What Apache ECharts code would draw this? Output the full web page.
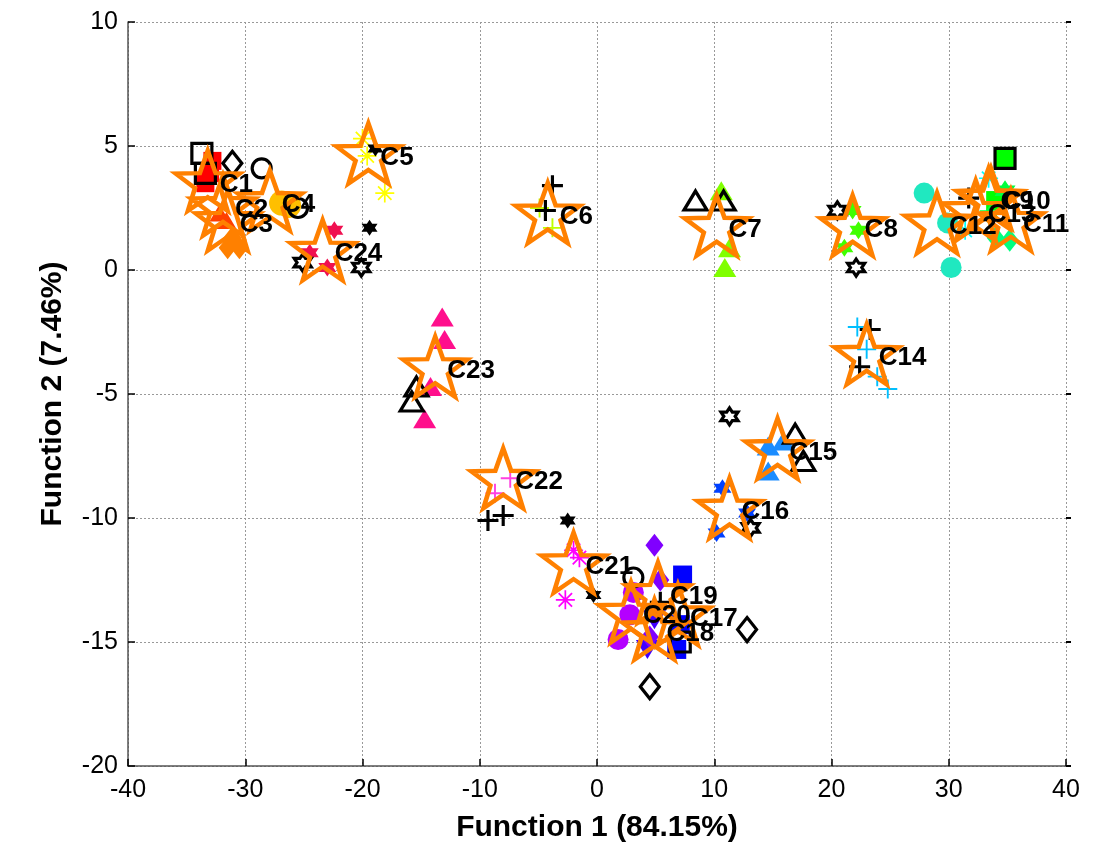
<!DOCTYPE html>
<html>
<head>
<meta charset="utf-8">
<script src="https://cdn.jsdelivr.net/npm/echarts@6/dist/echarts.min.js"></script>
<style>html,body{margin:0;padding:0;background:#fff;}#c{width:1102px;height:858px;}</style>
</head>
<body>
<div id="c"></div>
<script>
// ---- DATA ----
const xTicks = [-40, -30, -20, -10, 0, 10, 20, 30, 40];
const yTicks = [-20, -15, -10, -5, 0, 5, 10];
const centroidNames = ['C1','C2','C3','C4','C5','C6','C7','C8','C9','C10','C11','C12','C13','C14','C15','C16','C17','C18','C19','C20','C21','C22','C23','C24'];
const centroidX = [-33.2,-31.9,-31.5,-27.9,-19.5,-4.2,10.2,21.8,33.4,33.6,35.3,29.0,32.3,23.0,15.4,11.3,6.9,4.9,5.2,2.9,-2.0,-8.0,-13.8,-23.4];
const centroidY = [3.6,2.6,2.0,2.8,4.7,2.3,1.8,1.8,2.9,2.9,2.0,1.9,2.4,-3.4,-7.2,-9.6,-13.9,-14.5,-13.0,-13.8,-11.8,-8.4,-3.9,0.8];

const G01 = [[-32.8,4.4],[-33.4,3.5],[-33.0,3.9]];
const G02 = [[-31.6,2.0],[-32.2,2.3]];
const G03 = [[-31.5,0.9],[-30.5,0.9],[-31.1,1.3]];
const G04 = [[-26.9,2.7],[-26.3,2.6]];
const G05 = [[-20.0,5.3],[-19.6,4.6],[-18.1,3.1]];
const G06 = [[-4.9,2.5],[-3.8,1.7]];
const G07 = [[10.6,3.2],[11.3,0.9],[10.9,0.1]];
const G08 = [[21.8,2.4],[22.3,1.6],[21.1,0.9]];
const G09 = [[34.8,4.5],[34.0,2.8]];
const G10 = [[33.5,2.2],[34.8,3.2]];
const G11 = [[34.0,1.3],[35.2,1.2]];
const G12 = [[27.9,3.1],[29.9,1.9],[30.2,0.1]];
const G13 = [[33.4,3.7],[31.4,1.6]];
const G14 = [[22.2,-2.3],[23.0,-3.2],[23.9,-4.3],[24.8,-4.8]];
const G15 = [[14.6,-7.1],[14.6,-8.1],[15.9,-6.9]];
const G16 = [[10.7,-8.8],[10.2,-10.6],[12.8,-9.8]];
const G17 = [[7.3,-12.3],[6.8,-15.3],[7.1,-14.3]];
const G18 = [[4.3,-15.3],[4.9,-14.1]];
const G19 = [[4.9,-11.1],[4.5,-14.8],[5.4,-12.5]];
const G20 = [[3.1,-13.0],[2.8,-13.9],[1.8,-14.9]];
const G21 = [[-2.0,-11.3],[-1.5,-11.6],[-2.7,-13.3]];
const G22 = [[-7.4,-8.4],[-8.7,-9.0]];
const G23 = [[-13.2,-1.9],[-13.0,-2.8],[-14.2,-4.7],[-14.7,-6.0]];
const G24 = [[-22.4,1.6],[-24.5,0.7],[-23.0,0.1]];

const blackSquares = [[-33.7,4.7],[-33.4,3.9],[7.1,-15.0],[34.8,4.5]];
const blackDiamonds = [[-31.1,4.3],[12.8,-14.5],[4.5,-16.8]];
const blackCircles = [[-28.6,4.1],[-25.5,2.5],[3.1,-12.4]];
const blackTriangles = [[8.4,2.8],[10.8,2.8],[-15.4,-4.7],[-15.8,-5.3],[16.9,-6.6],[17.6,-7.7]];
const blackHexagrams = [[-25.1,0.3],[-20.1,0.1],[20.5,2.4],[22.1,0.1],[11.3,-5.9],[13.1,-10.4]];
const blackPlus = [[-3.8,3.4],[-4.4,2.4],[-9.3,-10.1],[-8.0,-9.9],[23.3,-2.4],[22.4,-3.9],[31.7,2.9],[5.4,-13.4]];
const blackBlobs = [[-18.9,4.9],[-19.4,1.7],[-2.5,-10.1],[-0.3,-13.1]];

// ---- SYMBOLS ----
const STAR = 'path://M0,-100 L23.5,-32.4 L95.1,-30.9 L38,12.4 L58.8,80.9 L0,40 L-58.8,80.9 L-38,12.4 L-95.1,-30.9 L-23.5,-32.4 Z';
const HEX = 'path://M0,-100 L28.9,-50 L86.6,-50 L57.7,0 L86.6,50 L28.9,50 L0,100 L-28.9,50 L-86.6,50 L-57.7,0 L-86.6,-50 L-28.9,-50 Z';
const PLUS = 'path://M-10,-100 L10,-100 L10,-10 L100,-10 L100,10 L10,10 L10,100 L-10,100 L-10,10 L-100,10 L-100,-10 L-10,-10 Z';
const PLUSB = 'path://M-15,-100 L15,-100 L15,-15 L100,-15 L100,15 L15,15 L15,100 L-15,100 L-15,15 L-100,15 L-100,-15 L-15,-15 Z';
const AST = 'path://M-9,-100 L9,-100 L9,-9 L100,-9 L100,9 L9,9 L9,100 L-9,100 L-9,9 L-100,9 L-100,-9 L-9,-9 Z M-77,-64 L-64,-77 L77,64 L64,77 Z M64,-77 L77,-64 L-64,77 L-77,64 Z';

const groupStyles = [
  [G01,'#FF0000','rect',18,0],
  [G02,'#FF4000','triangle',[20,17],0],
  [G03,'#FF8000','diamond',[18,23],0],
  [G04,'#FFBF00','circle',25,0],
  [G05,'#FFFF00',AST,19,0],
  [G06,'#BFFF00',PLUS,19,0],
  [G07,'#80FF00','triangle',[23,19],0],
  [G08,'#40FF00',HEX,18,0],
  [G09,'#00FF00','rect',19,0],
  [G10,'#00FF40',HEX,21,0],
  [G11,'#00FF80','diamond',[18,23],0],
  [G12,'#20E8C0','circle',21,0],
  [G13,'#00FFFF',AST,19,0],
  [G14,'#00BFFF',PLUS,19,0],
  [G15,'#1A8CFF','triangle',[23,19],0],
  [G16,'#0040FF',HEX,18,0],
  [G17,'#0000FF','rect',19,0],
  [G18,'#4000FF','triangle',[23,19],180],
  [G19,'#8000FF','diamond',[18,23],0],
  [G20,'#B400FF','circle',21,0],
  [G21,'#FF00FF',AST,19,0],
  [G22,'#FF40E0',PLUS,19,0],
  [G23,'#FF0F8C','triangle',[23,19],0],
  [G24,'#F01050',HEX,18,0]
];

const series = [];
groupStyles.forEach(function (g) {
  series.push({
    type: 'scatter', data: g[0], symbol: g[2], symbolSize: g[3], symbolRotate: g[4],
    itemStyle: { color: g[1], opacity: 1 }, z: 2, silent: true
  });
});
function hollow(data, symbol, size) {
  return { type: 'scatter', data: data, symbol: symbol, symbolSize: size,
    itemStyle: { color: 'rgba(0,0,0,0)', borderColor: '#000', borderWidth: 3.2, opacity: 1 }, z: 3, silent: true };
}
series.push(hollow(blackSquares, 'rect', 20));
series.push(hollow(blackDiamonds, 'diamond', [19, 24]));
series.push(hollow(blackCircles, 'circle', 19));
series.push(hollow(blackTriangles, 'triangle', [23, 19]));
series.push(hollow(blackHexagrams, HEX, 17));
series.push({ type: 'scatter', data: blackPlus, symbol: PLUSB, symbolSize: 21,
  itemStyle: { color: '#000', opacity: 1 }, z: 3, silent: true });
series.push({ type: 'scatter', data: blackBlobs, symbol: HEX, symbolSize: 16,
  itemStyle: { color: '#000', opacity: 1 }, z: 3, silent: true });

const centroidData = centroidNames.map(function (n, i) { return [centroidX[i], centroidY[i], n]; });
series.push({ type: 'scatter', data: centroidData, symbol: STAR, symbolSize: [64, 60],
  itemStyle: { color: 'rgba(0,0,0,0)', borderColor: '#FF8000', borderWidth: 4.5, opacity: 1 }, z: 4, silent: true });
series.push({ type: 'scatter', data: centroidData, symbol: 'circle', symbolSize: 1,
  itemStyle: { color: 'rgba(0,0,0,0)' }, z: 6, silent: true,
  label: { show: true, position: 'inside', align: 'left', verticalAlign: 'middle', offset: [12, 4],
    formatter: function (p) { return p.data[2]; },
    fontFamily: 'Liberation Sans, Arial', fontWeight: 'bold', fontSize: 26, color: '#000',
    textBorderWidth: 0, opacity: 1 } });

const chart = echarts.init(document.getElementById('c'), null, { renderer: 'canvas' });
chart.setOption({
  backgroundColor: '#fff',
  animation: false,
  grid: { left: 128, right: 36, top: 22, bottom: 92 },
  xAxis: [{
    type: 'value', min: xTicks[0], max: xTicks[xTicks.length - 1], interval: 10,
    name: 'Function 1 (84.15%)', nameLocation: 'middle', nameGap: 47,
    nameTextStyle: { fontFamily: 'Liberation Sans, Arial', fontWeight: 'bold', fontSize: 30, color: '#000', verticalAlign: 'top' },
    axisLine: { show: true, onZero: false, lineStyle: { color: '#555', width: 1.5 } },
    axisTick: { show: true, inside: true, length: 7, lineStyle: { color: '#000', width: 1.5 } },
    axisLabel: { fontFamily: 'Liberation Sans, Arial', fontSize: 25, color: '#000', margin: 12 },
    splitLine: { show: true, lineStyle: { color: '#999', type: [2, 2], width: 1 } }
  }],
  yAxis: [{
    type: 'value', min: yTicks[0], max: yTicks[yTicks.length - 1], interval: 5,
    name: 'Function 2 (7.46%)', nameLocation: 'middle', nameGap: 60, nameRotate: 90,
    nameTextStyle: { fontFamily: 'Liberation Sans, Arial', fontWeight: 'bold', fontSize: 30, color: '#000' },
    axisLine: { show: true, onZero: false, lineStyle: { color: '#555', width: 1.5 } },
    axisTick: { show: true, inside: true, length: 7, lineStyle: { color: '#000', width: 1.5 } },
    axisLabel: { fontFamily: 'Liberation Sans, Arial', fontSize: 25, color: '#000', margin: 10 },
    splitLine: { show: true, lineStyle: { color: '#999', type: [2, 2], width: 1 } }
  }, {
    type: 'value', position: 'right', min: yTicks[0], max: yTicks[yTicks.length - 1], interval: 5,
    axisLine: { show: false, onZero: false }, axisLabel: { show: false }, splitLine: { show: false },
    axisTick: { show: true, inside: false, length: 5, lineStyle: { color: '#000', width: 2 } }
  }],
  series: series
});
</script>
</body>
</html>
